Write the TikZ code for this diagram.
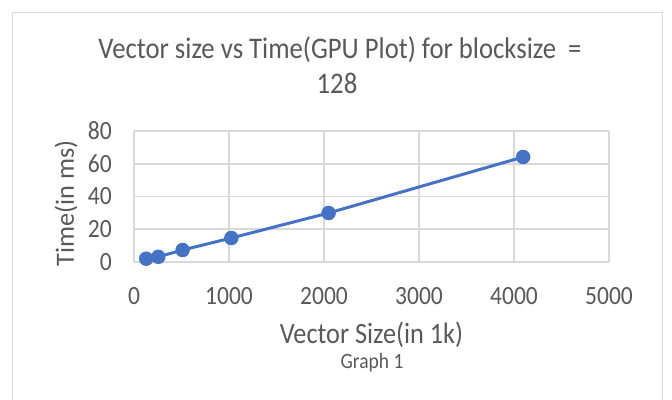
\documentclass[tikz,border=0pt]{standalone}
\usepackage{fontspec}
\setmainfont{Carlito}
\definecolor{txtgray}{HTML}{595959}
\definecolor{gridgray}{HTML}{D9D9D9}
\definecolor{serblue}{HTML}{4472C4}
\newcommand{\tall}[1]{\scalebox{1}[1.12]{#1}}
\tikzset{
  gridline/.style={draw=gridgray, line width=1.6pt},
  lbl/.style={text=txtgray, inner sep=0pt},
  ticklbl/.style={lbl, font=\fontsize{23.5}{26}\selectfont},
  axtitle/.style={lbl, font=\fontsize{26.3}{30}\selectfont},
  marker/.style={circle, fill=serblue, minimum size=14.5pt, inner sep=0pt},
  series/.style={draw=serblue, line width=3pt, line join=round}
}
\begin{document}
\begin{tikzpicture}[x=1pt, y=-1pt]
\useasboundingbox (0,0) rectangle (672,399);
\fill[white] (0,0) rectangle (672,399);
% chart frame
\draw[draw=gridgray, line width=1.8pt] (12.5,402) -- (12.5,12.5) -- (662.5,12.5) -- (662.5,402);
% title
\node[lbl, font=\fontsize{26.7}{30}\selectfont, anchor=base] (title1) at (340,58) {\tall{Vector size vs Time(GPU Plot) for blocksize\ \ =}};
\node[lbl, font=\fontsize{26.7}{30}\selectfont, anchor=base] (title2) at (337,93) {\tall{128}};
% grid
\foreach \i in {0,...,5} { \draw[gridline] ({134+95*\i},131) -- ({134+95*\i},262); }
\foreach \j in {0,...,4} { \draw[gridline] (134,{262-32.75*\j}) -- (609,{262-32.75*\j}); }
% x tick labels
\foreach \i/\v in {0/0,1/1000,2/2000,3/3000,4/4000,5/5000} {
  \node[ticklbl, anchor=base] (xt\i) at ({134+95*\i},304) {\tall{\v}};
}
% y tick labels
\foreach \j/\v in {0/0,1/20,2/40,3/60,4/80} {
  \node[ticklbl, anchor=east] (yt\j) at (112,{262-32.75*\j}) {\tall{\v}};
}
% axis titles
\node[axtitle, rotate=90] (ytitle) at (66,203.5) {Time(in ms)};
\node[axtitle, anchor=base] (xtitle) at (371.5,343) {\tall{Vector Size(in 1k)}};
\node[lbl, font=\fontsize{19.5}{22}\selectfont, anchor=base] (caption) at (372,368) {\tall{Graph 1}};
% data points
\coordinate (p1) at (146.2,258.7);
\coordinate (p2) at (158.3,256.8);
\coordinate (p3) at (182.6,250.0);
\coordinate (p4) at (231.3,238.0);
\coordinate (p5) at (328.6,213.0);
\coordinate (p6) at (523.1,157.0);
\draw[series] (p1) -- (p2) -- (p3) -- (p4) -- (p5) -- (p6);
\foreach \k in {1,...,6} { \node[marker] (m\k) at (p\k) {}; }
\end{tikzpicture}
\end{document}
